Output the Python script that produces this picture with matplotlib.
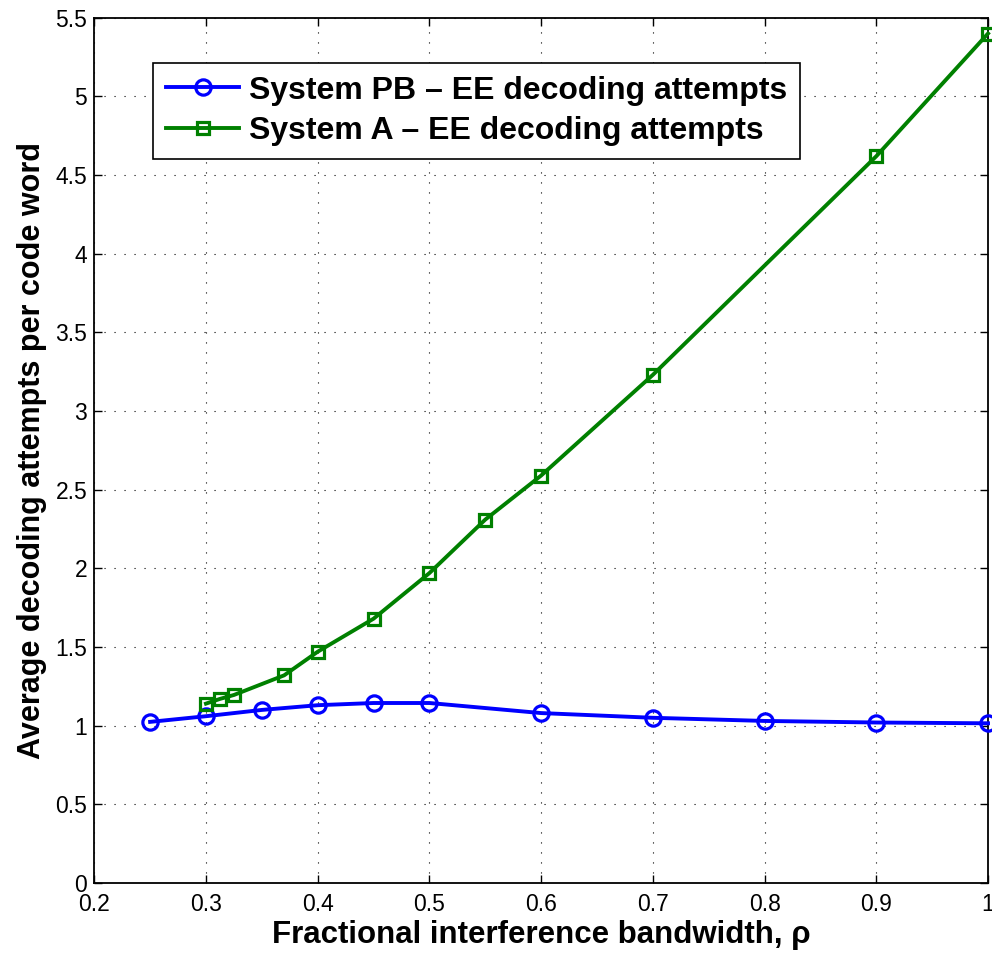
import numpy as np
import matplotlib
matplotlib.use("Agg")
import matplotlib.pyplot as plt

# =====================================================
# DATA
# =====================================================

rho_pb = [0.25, 0.3, 0.35, 0.4, 0.45, 0.5, 0.6, 0.7, 0.8, 0.9, 1.0]
att_pb = [1.024, 1.06, 1.10, 1.13, 1.144, 1.144, 1.08, 1.05, 1.03, 1.02, 1.015]

rho_a = [0.3, 0.3125, 0.325, 0.37, 0.4, 0.45, 0.5, 0.55, 0.6, 0.7, 0.9, 1.0]
att_a = [1.14, 1.17, 1.195, 1.32, 1.47, 1.68, 1.97, 2.31, 2.59, 3.23, 4.62, 5.40]

x_ticks = [0.2, 0.3, 0.4, 0.5, 0.6, 0.7, 0.8, 0.9, 1.0]
x_tick_labels = ["0.2", "0.3", "0.4", "0.5", "0.6", "0.7", "0.8", "0.9", "1"]
y_ticks = [0, 0.5, 1, 1.5, 2, 2.5, 3, 3.5, 4, 4.5, 5, 5.5]
y_tick_labels = ["0", "0.5", "1", "1.5", "2", "2.5", "3", "3.5", "4", "4.5", "5", "5.5"]

# =====================================================
# PLOT
# =====================================================

plt.rcParams["font.family"] = ["Liberation Sans", "DejaVu Sans"]

fig = plt.figure(figsize=(9.92, 9.56), dpi=100)
ax = fig.add_axes([0.095, 0.0764, 0.901, 0.905])

ax.plot(
    rho_pb, att_pb,
    color="blue", linewidth=2.8,
    marker="o", markersize=11,
    markerfacecolor="none", markeredgewidth=2.3,
    label="System PB \u2013 EE decoding attempts",
    clip_on=False, zorder=3
)

ax.plot(
    rho_a, att_a,
    color=(0, 0.5, 0), linewidth=2.8,
    marker="s", markersize=8.5,
    markerfacecolor="none", markeredgewidth=2.3,
    label="System A \u2013 EE decoding attempts",
    clip_on=False, zorder=3
)

ax.set_xlim(0.2, 1.0)
ax.set_ylim(0, 5.5)

ax.set_xticks(x_ticks)
ax.set_xticklabels(x_tick_labels)
ax.set_yticks(y_ticks)
ax.set_yticklabels(y_tick_labels)

ax.tick_params(direction="in", labelsize=16.5, length=6, width=1)
ax.tick_params(top=True, right=True)
ax.tick_params(axis="x", pad=7)
ax.tick_params(axis="y", pad=5)

ax.grid(True, color="black", linestyle=(0, (1, 8)), linewidth=0.8)

for s in ax.spines.values():
    s.set_linewidth(1.3)

ax.set_xlabel("Fractional interference bandwidth, \u03c1", fontsize=22.5, fontweight="bold", labelpad=3)
ax.set_ylabel("Average decoding attempts per code word", fontsize=22, fontweight="bold", labelpad=6)

leg = ax.legend(
    loc="upper left",
    bbox_to_anchor=(0.066, 0.948),
    prop={"weight": "bold", "size": 23},
    fancybox=False,
    edgecolor="black",
    framealpha=1,
    handlelength=2.3,
    borderpad=0.4,
    labelspacing=0.32,
    handletextpad=0.3,
    borderaxespad=0
)
leg.get_frame().set_linewidth(1.2)

plt.savefig("out.png", dpi=100)
plt.close()
